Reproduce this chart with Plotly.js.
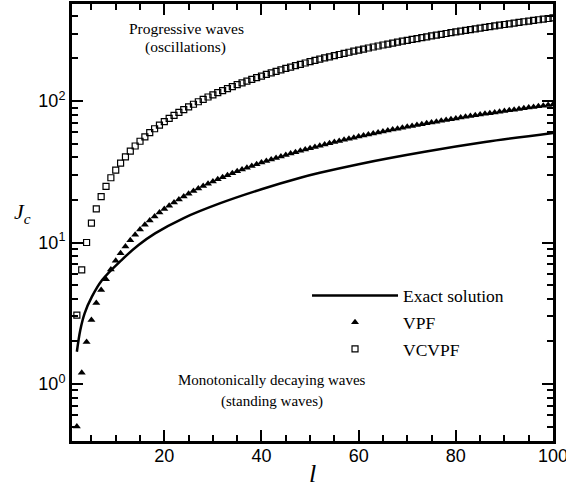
<!DOCTYPE html>
<html>
<head>
<meta charset="utf-8">
<script src="https://cdn.plot.ly/plotly-3.0.1.min.js"></script>
<style>html,body{margin:0;padding:0;background:#fff;}#chart{width:566px;height:488px;}</style>
</head>
<body>
<div id="chart"></div>
<script>
// Mode number l (markers at every integer l)
const lPoints = [2,3,4,5,6,7,8,9,10,11,12,13,14,15,16,17,18,19,20,21,22,23,24,25,26,27,28,29,30,31,32,33,34,35,36,37,38,39,40,41,42,43,44,45,46,47,48,49,50,51,52,53,54,55,56,57,58,59,60,61,62,63,64,65,66,67,68,69,70,71,72,73,74,75,76,77,78,79,80,81,82,83,84,85,86,87,88,89,90,91,92,93,94,95,96,97,98,99,100];

// VPF (filled triangles)
const vpf = [0.50,1.20,1.98,2.83,3.73,4.61,5.50,6.45,7.43,8.40,9.36,10.38,11.37,12.35,13.33,14.31,15.29,16.27,17.25,18.22,19.2,20.18,21.16,22.13,23.1,24.08,25.06,26.03,27.0,27.98,28.95,29.92,30.9,31.87,32.84,33.81,34.78,35.75,36.72,37.69,38.66,39.63,40.6,41.57,42.54,43.5,44.47,45.44,46.41,47.38,48.35,49.31,50.28,51.25,52.22,53.18,54.15,55.12,56.08,57.05,58.02,58.98,59.95,60.92,61.88,62.85,63.81,64.78,65.75,66.71,67.68,68.64,69.61,70.57,71.54,72.5,73.47,74.43,75.4,76.36,77.33,78.29,79.26,80.22,81.19,82.15,83.12,84.08,85.05,86.01,86.97,87.94,88.9,89.87,90.83,91.8,92.76,93.72,94.69];

// VCVPF (open squares)
const vcvpf = [3.07,6.4,10.0,13.7,17.3,21.1,24.9,28.7,32.5,36.4,40.3,44.2,48.1,52.0,55.9,59.8,63.7,67.6,71.5,75.4,79.3,83.2,87.1,91.0,94.9,98.9,102.8,106.8,110.7,114.7,118.6,122.6,126.5,130.5,134.4,138.4,142.3,146.3,150.2,154.2,158.1,162.1,166.0,170.0,173.9,177.9,181.8,185.8,189.7,193.7,197.6,201.6,205.5,209.5,213.4,217.4,221.3,225.3,229.2,233.2,237.1,241.1,245.0,249.0,252.9,256.9,260.8,264.8,268.7,272.7,276.6,280.6,284.5,288.5,292.4,296.4,300.3,304.3,308.2,312.2,316.1,320.1,324.0,328.0,331.9,335.9,339.8,343.8,347.7,351.7,355.6,359.6,363.5,367.5,371.4,375.4,379.3,383.3,387.2];

// Exact solution (solid curve), read at these l
const lExact = [2,2.7,3.6,5.1,7.2,11.2,14.7,18.1,24,31.4,40,48,52,60,73.6,86,100];
const exact  = [1.69,2.4,3.16,4.14,5.43,7.52,9.6,11.6,14.9,18.9,23.8,28.7,31.1,35.8,43.8,51.3,59.5];

// Tick labels
const xTickVals = [20,40,60,80,100];
const xTickText = ['20','40','60','80','100'];
const yTickVals = [1,10,100];
const yTickText = ['10<sup>0</sup>','10<sup>1</sup>','10<sup>2</sup>'];

const serif = '"Liberation Serif", serif';
const sans = '"Liberation Sans", sans-serif';

const traces = [
  {x: lExact, y: exact, type: 'scatter', mode: 'lines', name: 'Exact solution', legendgroup: 'a',
   line: {color: '#000', width: 2.5, shape: 'spline'}},
  {x: lPoints, y: vpf, type: 'scatter', mode: 'markers', name: 'VPF', legendgroup: 'b',
   marker: {symbol: 'triangle-up', size: 7, color: '#000'}},
  {x: lPoints, y: vcvpf, type: 'scatter', mode: 'markers', name: 'VCVPF', legendgroup: 'c',
   marker: {symbol: 'square-open', size: 6, color: '#000', line: {width: 1.2, color: '#000'}}}
];

function ann(text, x, y, size) {
  return {text: text, xref: 'paper', yref: 'paper', x: x, y: y, xanchor: 'center', yanchor: 'middle',
          showarrow: false, font: {family: serif, size: size, color: '#000'}};
}

const layout = {
  width: 566, height: 488,
  margin: {l: 72, r: 13, t: 4, b: 47},
  paper_bgcolor: '#fff', plot_bgcolor: '#fff',
  font: {family: serif, color: '#000'},
  showlegend: true,
  legend: {x: 0.4886, y: 0.374, xanchor: 'left', yanchor: 'top', bgcolor: 'rgba(0,0,0,0)',
           font: {family: serif, size: 17.5, color: '#000'}, itemwidth: 86,
           traceorder: 'grouped', tracegroupgap: 1},
  xaxis: {range: [1, 100], tickmode: 'array', tickvals: xTickVals, ticktext: xTickText,
          ticks: 'inside', ticklen: 11, tickwidth: 2, tickcolor: '#000',
          ticklabeloverflow: 'allow', ticklabelstandoff: -4,
          showline: true, linewidth: 3, linecolor: '#000', mirror: 'ticks',
          showgrid: false, zeroline: false,
          tickfont: {family: sans, size: 18, color: '#000'},
          minor: {dtick: 5, tick0: 0, ticks: 'inside', ticklen: 6, tickwidth: 1.5, tickcolor: '#000', showgrid: false}},
  yaxis: {type: 'log', range: [-0.403, 2.686], tickmode: 'array', tickvals: yTickVals, ticktext: yTickText,
          ticks: 'inside', ticklen: 11, tickwidth: 2, tickcolor: '#000',
          showline: true, linewidth: 3, linecolor: '#000', mirror: 'ticks',
          showgrid: false, zeroline: false,
          tickfont: {family: sans, size: 18, color: '#000'},
          minor: {dtick: 'D1', ticks: 'inside', ticklen: 6, tickwidth: 1.5, tickcolor: '#000', showgrid: false}},
  annotations: [
    ann('Progressive waves', 0.239, 0.945, 15.5),
    ann('(oscillations)', 0.235, 0.902, 15.5),
    ann('Monotonically decaying waves', 0.416, 0.140, 15),
    ann('(standing waves)', 0.416, 0.090, 15),
    ann('<i>J<sub>c</sub></i>', -0.102, 0.522, 22),
    ann('<i>l</i>', 0.5, -0.075, 26)
  ]
};

Plotly.newPlot('chart', traces, layout, {displayModeBar: false});
</script>
</body>
</html>
